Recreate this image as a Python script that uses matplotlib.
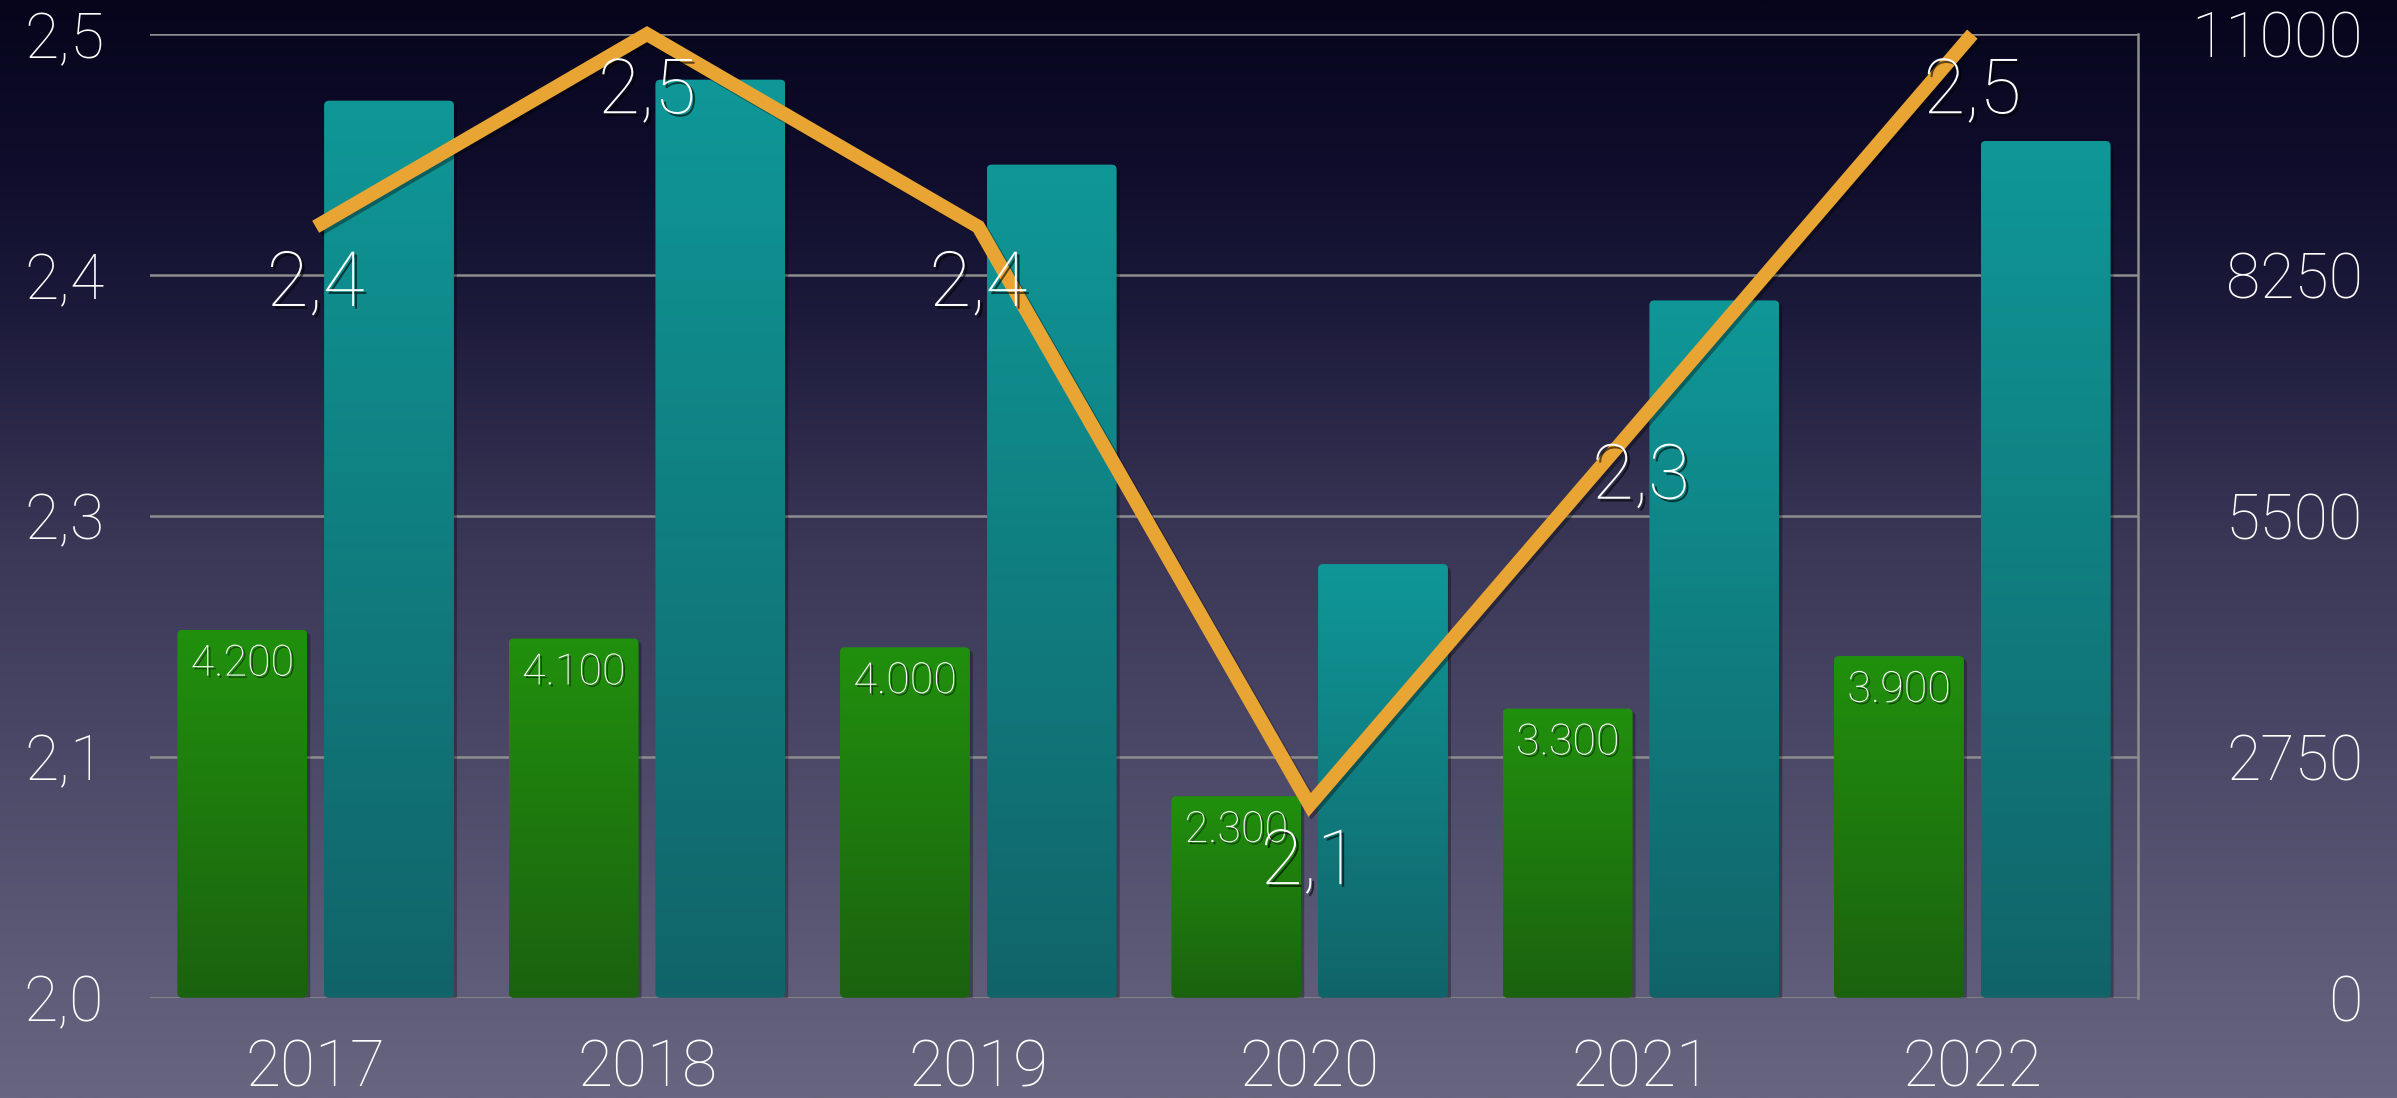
import numpy as np
import matplotlib
matplotlib.use("Agg")
import matplotlib.pyplot as plt
from matplotlib.patches import FancyBboxPatch
from matplotlib.colors import LinearSegmentedColormap
import matplotlib.patheffects as pe
import matplotlib.transforms as mtransforms

# ---------------- data ----------------
years = ["2017", "2018", "2019", "2020", "2021", "2022"]
rate = [2.4, 2.5, 2.4, 2.1, 2.3, 2.5]
green_vals = [4200, 4100, 4000, 2300, 3300, 3900]
teal_vals = [10240, 10480, 9510, 4950, 7960, 9780]
left_ticks = [2.0, 2.125, 2.25, 2.375, 2.5]
left_tick_labels = ["2,0", "2,1", "2,3", "2,4", "2,5"]
right_ticks = [0, 2750, 5500, 8250, 11000]
right_tick_labels = ["0", "2750", "5500", "8250", "11000"]

plt.rcParams["font.family"] = ["Roboto", "DejaVu Sans"]
plt.rcParams["font.weight"] = "light"

W, H = 2397, 1098
fig = plt.figure(figsize=(W / 100, H / 100), dpi=100)

# background gradient
bg_cmap = LinearSegmentedColormap.from_list(
    "bg",
    [(0.0, "#06051c"), (0.15, "#0f0d2b"), (0.28, "#1c1a3a"),
     (0.5, "#3a3757"), (0.85, "#5a5875"), (1.0, "#67657f")])
bg = fig.add_axes([0, 0, 1, 1], zorder=-10)
bg.imshow(np.linspace(0, 1, 512).reshape(-1, 1), aspect="auto", cmap=bg_cmap,
          extent=(0, 1, 0, 1), origin="upper")
bg.set_axis_off()

left_px, right_px, top_px, bot_px = 150, 2138, 34.1, 997.7
rect = [left_px / W, 1 - bot_px / H, (right_px - left_px) / W, (bot_px - top_px) / H]

grid_col = "#8d8d8d"

# ---------------- bars axis (right scale) ----------------
axb = fig.add_axes(rect)
axb.patch.set_visible(False)
x = np.arange(len(years))
bw = 0.392
off = 0.2214
gbars = axb.bar(x - off, green_vals, width=bw, color="#1e7a0e")
tbars = axb.bar(x + off, teal_vals, width=bw, color="#107e80")
axb.set_xlim(-0.5, len(years) - 0.5)
axb.set_ylim(0, 11000)

xu_per_px = len(years) / (right_px - left_px)
yu_per_px = 11000 / (bot_px - top_px)
rad = 5 * xu_per_px
asp = yu_per_px / xu_per_px

green_cmap = LinearSegmentedColormap.from_list("g", ["#21900d", "#1b620f"])
teal_cmap = LinearSegmentedColormap.from_list("t", ["#0f9797", "#116469"])
shadow_tr = mtransforms.offset_copy(axb.transData, fig=fig, x=3, y=-3, units="dots")

grad = np.linspace(0, 1, 256).reshape(-1, 1)
for bars, cmap in ((gbars, green_cmap), (tbars, teal_cmap)):
    for r in bars:
        x0, y0, w, h = r.get_x(), r.get_y(), r.get_width(), r.get_height()
        r.set_visible(False)
        sh = FancyBboxPatch((x0, y0), w, h,
                            boxstyle=f"round,pad=0,rounding_size={rad}",
                            mutation_aspect=asp, facecolor="black", alpha=0.3,
                            edgecolor="none", transform=shadow_tr, zorder=1.5)
        axb.add_patch(sh)
        p = FancyBboxPatch((x0, y0), w, h,
                           boxstyle=f"round,pad=0,rounding_size={rad}",
                           mutation_aspect=asp, facecolor="none",
                           edgecolor="none", zorder=2)
        axb.add_patch(p)
        im = axb.imshow(grad, extent=(x0, x0 + w, y0, y0 + h), aspect="auto",
                        cmap=cmap, origin="upper", zorder=2)
        im.set_clip_path(p)

for r, v in zip(gbars, green_vals):
    lab = f"{v:,}".replace(",", ".")
    axb.annotate(lab, (r.get_x() + r.get_width() / 2, r.get_height()),
                 xytext=(0, -33), textcoords="offset points", ha="center",
                 va="baseline", fontsize=31, color="white", zorder=5,
                 path_effects=[pe.withSimplePatchShadow(offset=(1.5, -1.5),
                                                        shadow_rgbFace="black",
                                                        alpha=0.5)])

axb.set_xlim(-0.5, len(years) - 0.5)
axb.set_ylim(0, 11000)
axb.set_yticks(right_ticks, right_tick_labels)
axb.yaxis.tick_right()
axb.grid(axis="y", color=grid_col, lw=1.8)
axb.set_axisbelow(True)
axb.tick_params(axis="y", length=0, pad=162, labelsize=45, labelcolor="white")
for t in axb.yaxis.get_major_ticks():
    t.label2.set_horizontalalignment("right")
axb.set_xticks(x, years)
axb.tick_params(axis="x", length=0, pad=29, labelsize=46, labelcolor="white")
for s in ("top", "left", "bottom"):
    axb.spines[s].set_visible(False)
axb.spines["right"].set_color(grid_col)
axb.spines["right"].set_linewidth(1.8)

# ---------------- line axis (left scale) ----------------
axl = fig.add_axes(rect, label="line")
axl.set_zorder(axb.get_zorder() + 1)
axl.patch.set_visible(False)
axl.set_xlim(-0.5, len(years) - 0.5)
axl.set_ylim(2.0, 2.5)
axl.set_yticks(left_ticks, left_tick_labels)
axl.tick_params(axis="y", length=0, pad=33, labelsize=45, labelcolor="white")
axl.set_xticks([])
for s in axl.spines.values():
    s.set_visible(False)

axl.plot(x, rate, color="#e9a534", lw=10, solid_capstyle="butt",
         solid_joinstyle="miter", clip_on=False, zorder=3,
         path_effects=[pe.SimpleLineShadow(offset=(2, -2), alpha=0.35),
                       pe.Normal()])

for xi, v in zip(x, rate):
    lab = f"{v:.1f}".replace(".", ",")
    axl.annotate(lab, (xi, v), xytext=(0, -57), textcoords="offset points",
                 ha="center", va="baseline", fontsize=55, color="white",
                 zorder=4, annotation_clip=False,
                 path_effects=[pe.withSimplePatchShadow(offset=(2, -2),
                                                        shadow_rgbFace="black",
                                                        alpha=0.6)])

fig.savefig("out.png", dpi=100)
